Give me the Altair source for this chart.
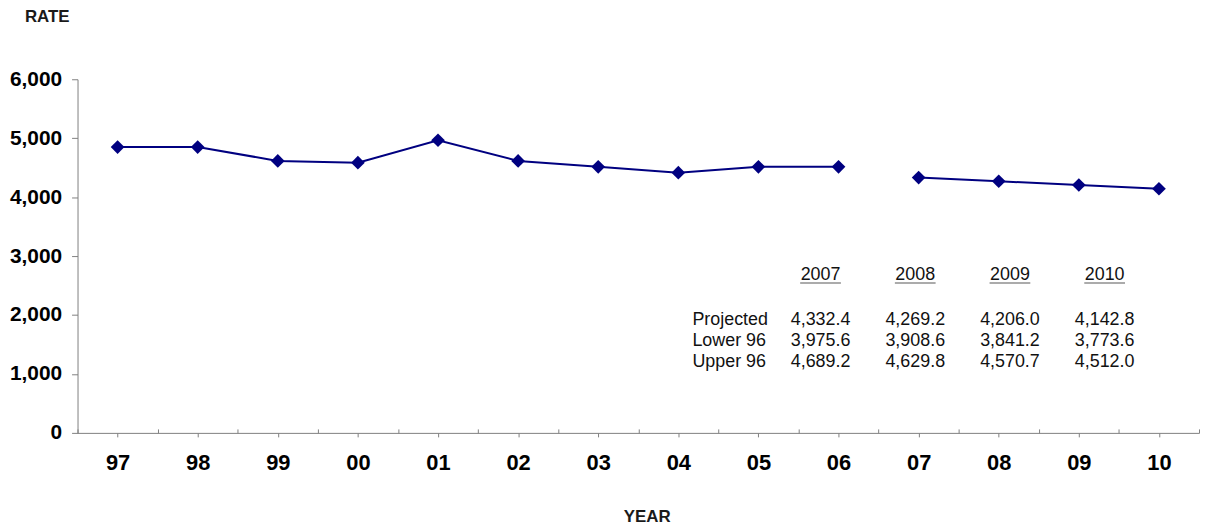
import altair as alt
import pandas as pd

# ---------------- data ----------------
years = ["97", "98", "99", "00", "01", "02", "03", "04", "05", "06", "07", "08", "09", "10"]
actual = [4850, 4850, 4615, 4585, 4965, 4615, 4515, 4415, 4515, 4515]
table_years = ["2007", "2008", "2009", "2010"]
projected = [4332.4, 4269.2, 4206.0, 4142.8]
lower96 = [3975.6, 3908.6, 3841.2, 3773.6]
upper96 = [4689.2, 4629.8, 4570.7, 4512.0]
row_labels = ["Projected", "Lower 96", "Upper 96"]
y_ticks = [0, 1000, 2000, 3000, 4000, 5000, 6000]

rates = actual + projected
segments = ["actual"] * len(actual) + ["projected"] * len(projected)
line_df = pd.DataFrame({"idx": list(range(len(years))), "year": years,
                        "rate": rates, "segment": segments})

cells = []
for r, series in enumerate([projected, lower96, upper96]):
    for c, v in enumerate(series):
        cells.append({"tcol": c, "trow": r, "value": v})
cells_df = pd.DataFrame(cells)
labels_df = pd.DataFrame({"trow": list(range(len(row_labels))), "label": row_labels})
headers_df = pd.DataFrame({"tcol": list(range(len(table_years))), "label": table_years})

FONT = "Liberation Sans"
NAVY = "#000080"
AXIS_GRAY = "#808080"
label_expr = "[" + ",".join("'%s'" % y for y in years) + "][datum.value]"

x_scale = alt.Scale(domain=[-0.5, len(years) - 0.5], nice=False, zero=False)
y_enc = alt.Y("rate:Q",
              scale=alt.Scale(domain=[0, 6000], nice=False),
              axis=alt.Axis(values=y_ticks, format=",d", grid=False,
                            labelFont=FONT, labelFontSize=21, labelFontWeight="bold",
                            labelColor="black", labelPadding=10,
                            tickSize=6, tickColor=AXIS_GRAY, domainColor=AXIS_GRAY,
                            title="RATE", titleAngle=0, titleFont=FONT, titleFontSize=17,
                            titleFontWeight="bold", titleColor="#1a1a1a",
                            titleX=-31, titleY=-58, titleAlign="center",
                            titleBaseline="alphabetic"))

line = alt.Chart(line_df).mark_line(color=NAVY, strokeWidth=2).encode(
    x=alt.X("idx:Q", scale=x_scale,
            axis=alt.Axis(values=list(range(len(years))), labelExpr=label_expr, grid=False,
                          labelFont=FONT, labelFontSize=22, labelFontWeight="bold",
                          labelColor="black", labelPadding=16,
                          tickSize=4, tickColor=AXIS_GRAY, domainColor=AXIS_GRAY,
                          title="YEAR", titleFont=FONT, titleFontSize=17,
                          titleFontWeight="bold", titleColor="#1a1a1a",
                          titleX=573, titleY=89, titleAlign="center",
                          titleBaseline="alphabetic")),
    y=y_enc,
    detail="segment:N",
)

points = alt.Chart(line_df).mark_point(shape="diamond", filled=True, size=190,
                                       color=NAVY, opacity=1).encode(
    x=alt.X("idx:Q", scale=x_scale,
            axis=alt.Axis(values=[i - 0.5 for i in range(len(years) + 1)], labels=False,
                          domain=False, grid=False, tickSize=4, tickColor=AXIS_GRAY,
                          offset=-4, orient="bottom", title=None)),
    y=y_enc,
)

main = alt.layer(line, points).resolve_axis(x="independent")

col_scale = alt.Scale(domain=[0, 3], range=[748, 1034])
row_scale = alt.Scale(domain=[0, 2], range=[242, 285])
TXT = "#111111"

values_layer = alt.Chart(cells_df).mark_text(font=FONT, fontSize=18, color=TXT,
                                             align="center", baseline="middle").encode(
    x=alt.X("tcol:Q", scale=col_scale, axis=None),
    y=alt.Y("trow:Q", scale=row_scale, axis=None),
    text=alt.Text("value:Q", format=",.1f"),
)

labels_layer = alt.Chart(labels_df).mark_text(font=FONT, fontSize=18, color=TXT,
                                              align="left", baseline="middle").encode(
    x=alt.value(619),
    y=alt.Y("trow:Q", scale=row_scale, axis=None),
    text="label:N",
)

headers_layer = alt.Chart(headers_df).mark_text(font=FONT, fontSize=18, color=TXT,
                                                align="center", baseline="middle").encode(
    x=alt.X("tcol:Q", scale=col_scale, axis=None),
    y=alt.value(197),
    text="label:N",
)

underline_layer = alt.Chart(headers_df).mark_tick(orient="horizontal", size=41,
                                                  thickness=1, color=TXT).encode(
    x=alt.X("tcol:Q", scale=col_scale, axis=None),
    y=alt.value(205),
)

chart = alt.layer(main, values_layer, labels_layer, headers_layer, underline_layer).resolve_scale(
    x="independent", y="independent"
).properties(
    width=1129,
    height=356,
    padding={"left": 70, "top": 70, "right": 1, "bottom": 94},
    autosize=alt.AutoSizeParams(type="none"),
    title=alt.TitleParams(text="TIME SERIES", font=FONT, fontSize=20, fontWeight="bold",
                          color="black", anchor="middle", frame="group", dx=30,
                          offset=67, baseline="alphabetic"),
).configure_view(stroke=None)

chart.save("out.html", embed_options={"renderer": "svg", "actions": False})
